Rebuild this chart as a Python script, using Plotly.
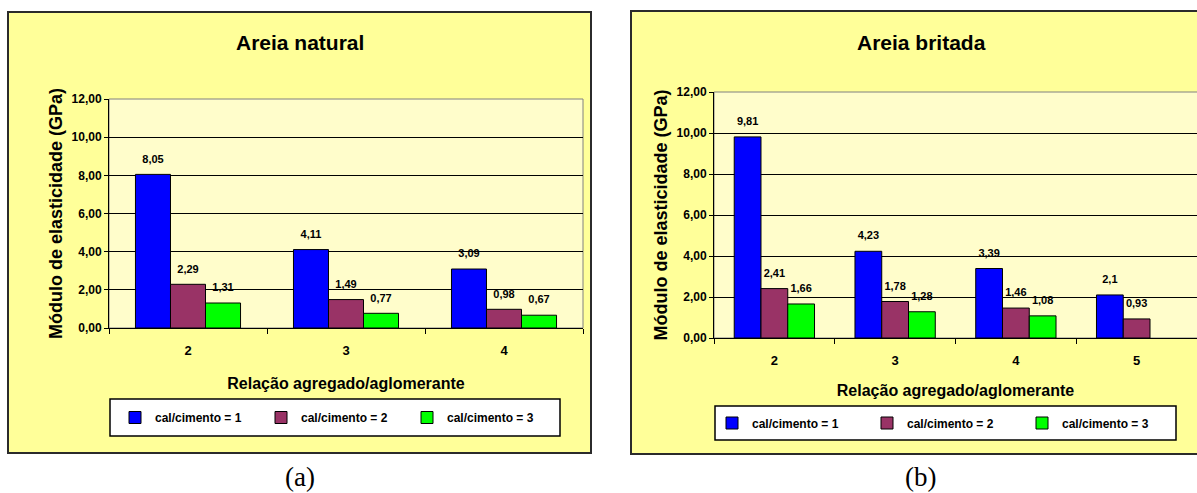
import plotly.graph_objects as go

# Módulo de elasticidade (GPa) by aggregate/binder ratio, for each lime/cement ratio
categorias_natural = ["2", "3", "4"]
natural_cal1 = [8.05, 4.11, 3.09]
natural_cal2 = [2.29, 1.49, 0.98]
natural_cal3 = [1.31, 0.77, 0.67]

categorias_britada = ["2", "3", "4", "5"]
britada_cal1 = [9.81, 4.23, 3.39, 2.1]
britada_cal2 = [2.41, 1.78, 1.46, 0.93]
britada_cal3 = [1.66, 1.28, 1.08, None]

series_names = ["cal/cimento = 1", "cal/cimento = 2", "cal/cimento = 3"]
series_colors = ["#0000FF", "#993366", "#00FF00"]

W, H = 1197, 493
FONT = "Liberation Sans"


def label(v):
    # decimal comma; a small empty line beneath lifts the value a little above the bar
    if v is None:
        return ""
    return "<span style='font-size:11px'>" + str(v).replace(".", ",") + "</span><br>\u00a0"


def px(x):
    return x / W


def py(y):
    return 1 - y / H


fig = go.Figure()

panels = [
    ("x", "y", "legend", categorias_natural, [natural_cal1, natural_cal2, natural_cal3]),
    ("x2", "y2", "legend2", categorias_britada, [britada_cal1, britada_cal2, britada_cal3]),
]
for xa, ya, leg, cats, values in panels:
    for name, color, vals in zip(series_names, series_colors, values):
        fig.add_trace(go.Bar(
            x=cats, y=vals, name=name, xaxis=xa, yaxis=ya, legend=leg,
            marker=dict(color=color, line=dict(color="#000000", width=1)),
            text=[label(v) for v in vals], textposition="outside",
            textfont=dict(family=FONT, size=6, color="#000000", weight="bold"),
            constraintext="none", cliponaxis=False, hoverinfo="skip",
        ))

axis_font = dict(family=FONT, size=12, color="#000000", weight="bold")
xcat_font = dict(family=FONT, size=13, color="#000000", weight="bold")
xtitle_font = dict(family=FONT, size=16, color="#000000", weight="bold")
ytitle_font = dict(family=FONT, size=18, color="#000000", weight="bold")


def xaxis_cfg(domain, anchor, standoff):
    return dict(
        domain=domain, anchor=anchor, type="category",
        showline=True, linecolor="#000000", linewidth=1,
        ticks="outside", ticklen=5, tickcolor="#000000", tickson="boundaries",
        ticklabelstandoff=10, tickfont=xcat_font, showgrid=False,
        title=dict(text="Relação agregado/aglomerante", font=xtitle_font, standoff=standoff),
        fixedrange=True,
    )


def yaxis_cfg(domain, anchor):
    return dict(
        domain=domain, anchor=anchor, range=[0, 12], dtick=2, tickformat=".2f",
        showline=True, linecolor="#000000", linewidth=1,
        ticks="outside", ticklen=4, tickcolor="#000000",
        showgrid=True, gridcolor="#000000", gridwidth=1,
        tickfont=axis_font, zeroline=False,
        title=dict(text="Módulo de elasticidade (GPa)", font=ytitle_font, standoff=4),
        fixedrange=True,
    )


legend_font = dict(family=FONT, size=12, color="#000000", weight="bold")


def legend_cfg(x, y, entry):
    return dict(
        orientation="h", x=x, xanchor="left", y=y, yanchor="middle",
        bgcolor="rgba(0,0,0,0)", borderwidth=0, font=legend_font,
        itemwidth=30, entrywidth=entry, entrywidthmode="pixels",
        traceorder="normal", itemclick=False, itemdoubleclick=False,
    )


shapes = [
    # chart panels
    dict(type="rect", xref="paper", yref="paper", x0=px(8), x1=px(591), y0=py(453), y1=py(12),
         fillcolor="#FFFF99", line=dict(color="#2B2B2B", width=2), layer="below"),
    dict(type="rect", xref="paper", yref="paper", x0=px(631), x1=px(1211), y0=py(454), y1=py(11),
         fillcolor="#FFFF99", line=dict(color="#2B2B2B", width=2), layer="below"),
    # plot areas
    dict(type="rect", xref="x domain", yref="y domain", x0=0, x1=1, y0=0, y1=1,
         fillcolor="#FFFDCB", line=dict(color="#808080", width=1), layer="below"),
    dict(type="rect", xref="x2 domain", yref="y2 domain", x0=0, x1=1.01, y0=0, y1=1,
         fillcolor="#FFFDCB", line=dict(color="#808080", width=1), layer="below"),
    # legend boxes
    dict(type="rect", xref="paper", yref="paper", x0=px(110), x1=px(560), y0=py(436), y1=py(399),
         fillcolor="#FFFFFF", line=dict(color="#000000", width=1.5), layer="below"),
    dict(type="rect", xref="paper", yref="paper", x0=px(715), x1=px(1176), y0=py(440), y1=py(406),
         fillcolor="#FFFFFF", line=dict(color="#000000", width=1.5), layer="below"),
]

title_font = dict(family=FONT, size=21, color="#000000", weight="bold")
caption_font = dict(family="Liberation Serif", size=27, color="#000000")
annotations = [
    dict(text="Areia natural", x=px(300), y=py(43), font=title_font),
    dict(text="Areia britada", x=px(921), y=py(42), font=title_font),
    dict(text="(a)", x=px(300), y=py(477), font=caption_font),
    dict(text="(b)", x=px(920), y=py(477), font=caption_font),
]
for a in annotations:
    a.update(xref="paper", yref="paper", xanchor="center", yanchor="middle", showarrow=False)

fig.update_layout(
    width=W, height=H, margin=dict(l=0, r=0, t=0, b=0, autoexpand=False),
    paper_bgcolor="#FFFFFF", plot_bgcolor="#FFFDCB",
    barmode="group", bargap=0.335, bargroupgap=0,
    separators=",.",
    xaxis=xaxis_cfg([px(109), px(583)], "y", 21),
    yaxis=yaxis_cfg([py(328), py(99)], "x"),
    xaxis2=xaxis_cfg([px(714), 1.0], "y2", 18),
    yaxis2=yaxis_cfg([py(338), py(92)], "x2"),
    legend=legend_cfg(px(115), py(417.5), 101),
    legend2=legend_cfg(px(712), py(423), 110),
    shapes=shapes, annotations=annotations,
    showlegend=True,
)

fig.write_html("out.html", config=dict(displayModeBar=False))
